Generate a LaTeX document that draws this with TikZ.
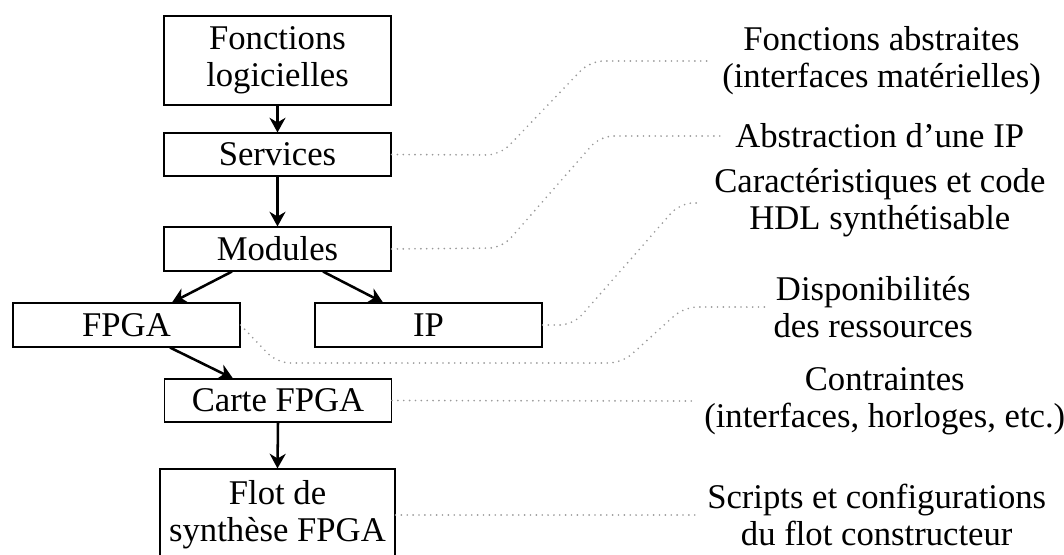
\documentclass[tikz,border=0pt]{standalone}
\usepackage{fontspec}
\setmainfont{Liberation Serif}
\usetikzlibrary{arrows.meta,calc}
\begin{document}
\begin{tikzpicture}[x=0.75pt,y=-0.75pt,
  box/.style={draw,line width=0.8pt,align=center,inner sep=0pt,font=\fontsize{26}{27.75}\selectfont},
  lab/.style={align=center,inner xsep=9pt,inner ysep=2pt,anchor=west,font=\fontsize{26}{27.75}\selectfont},
  arr/.style={line width=1.9pt,-{Stealth[length=11pt,width=12pt,inset=3.5pt]}},
  dotline/.style={gray!80,line width=1.4pt,line cap=round,dash pattern=on 0pt off 4.4pt,rounded corners=10pt}]
\useasboundingbox (0,0) rectangle (1064,554);
\clip (0,0) rectangle (1064,554);
\node[box,minimum width=170.25pt,minimum height=66.75pt] (fl) at (277.5,60.5) {Fonctions\\logicielles};
\node[box,minimum width=170.25pt,minimum height=32.25pt] (serv) at (277.5,154.5) {Services};
\node[box,minimum width=170.25pt,minimum height=33pt] (mod) at (277.5,249) {Modules};
\node[box,minimum width=170.25pt,minimum height=33pt] (fpga) at (126.5,325) {FPGA};
\node[box,minimum width=170.25pt,minimum height=33pt] (ip) at (428.5,325) {IP};
\node[box,minimum width=170.25pt,minimum height=32.25pt] (carte) at (278,400.5) {Carte FPGA};
\node[box,minimum width=176.25pt,minimum height=69pt] (flot) at (277.5,515) {Flot de\\synthèse FPGA};

\node[lab] (la) at (710,61) {Fonctions abstraites\\(interfaces matérielles)};
\node[lab] (lb) at (723,136) {Abstraction d’une IP};
\node[lab] (lc) at (702,203) {Caractéristiques et code\\HDL synthétisable};
\node[lab,inner xsep=4pt] (ld) at (768,307) {Disponibilités\\des ressources};
\node[lab] (le) at (692,401) {Contraintes\\(interfaces, horloges, etc.)};
\node[lab] (lf) at (695,515) {Scripts et configurations\\du flot constructeur};

\draw[arr] (fl.south) -- (serv.north);
\draw[arr] (serv.south) -- (mod.north);
\draw[arr] ($(mod.south)+(-45.5,0)$) -- ($(fpga.north)+(45.5,0)$);
\draw[arr] ($(mod.south)+(45.5,0)$) -- ($(ip.north)+(-45.5,0)$);
\draw[arr] ($(fpga.south)+(43.5,0)$) -- ($(carte.north)+(-45,0)$);
\draw[arr] (carte.south) -- (flot.north);

\draw[dotline] (serv.east) -- (500,155) -- (590,61) -- (la.west);
\draw[dotline] (mod.east) -- (502,248) -- (600,136) -- (lb.west);
\draw[dotline] (ip.east) -- (573,325) -- (680,203) -- (lc.west);
\draw[dotline] (fpga.east) -- (277,363) -- (622,363) -- (684,307) -- (ld.west);
\draw[dotline] (carte.east) -- (le.west);
\draw[dotline] (flot.east) -- (lf.west);
\end{tikzpicture}
\end{document}
